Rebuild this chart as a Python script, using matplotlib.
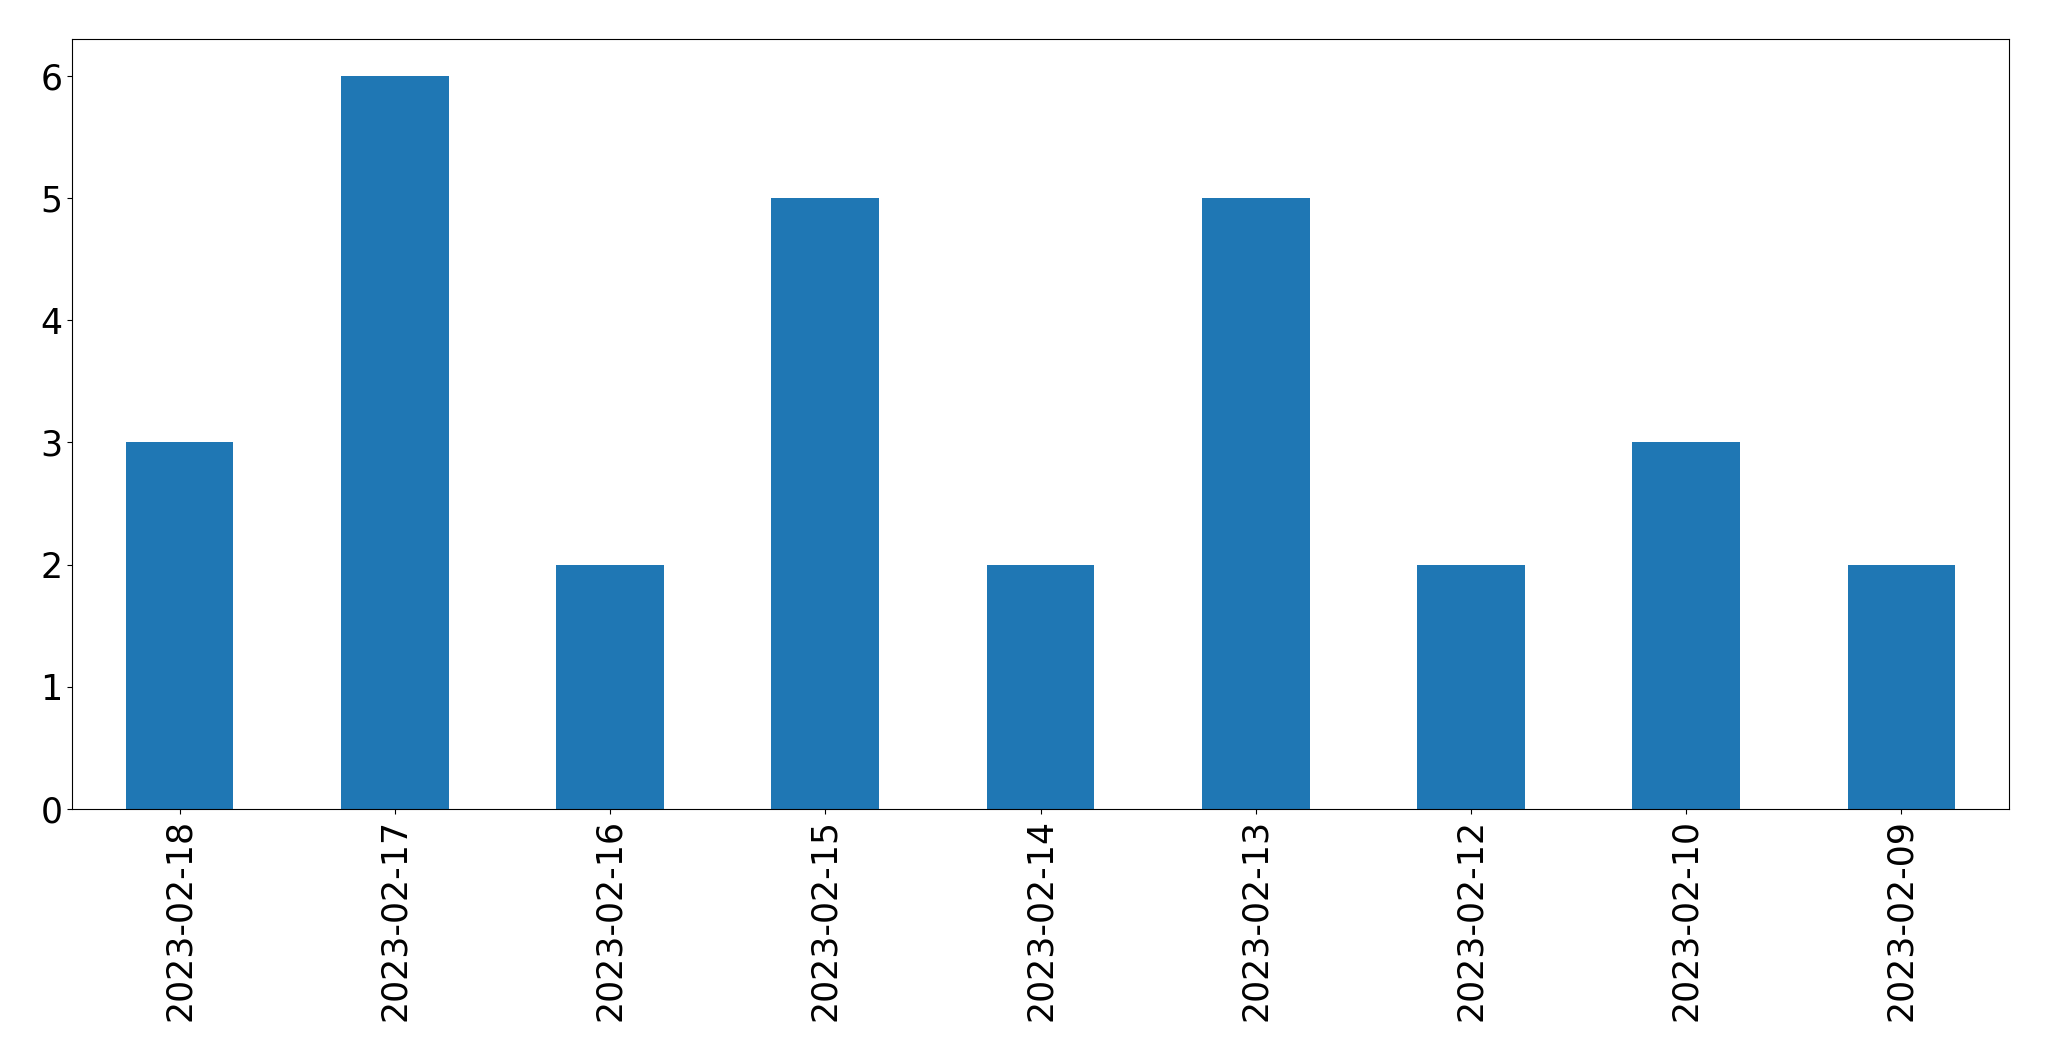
import matplotlib
matplotlib.use('Agg')
import matplotlib.pyplot as plt
import pandas as pd

# 日付ごとの件数
dates = ['2023-02-18', '2023-02-17', '2023-02-16', '2023-02-15', '2023-02-14',
         '2023-02-13', '2023-02-12', '2023-02-10', '2023-02-09']
counts = [3, 6, 2, 5, 2, 5, 2, 3, 2]

s = pd.Series(counts, index=dates)

fig = plt.figure(figsize=(20.49, 10.61), dpi=100)
ax = fig.add_axes([72/2049, 1-809/1061, (2009-72)/2049, (809-39)/1061])
s.plot.bar(ax=ax, color='#1f77b4')
ax.tick_params(labelsize=25)
ax.set_xlabel('')

fig.savefig('out.png', dpi=100)
